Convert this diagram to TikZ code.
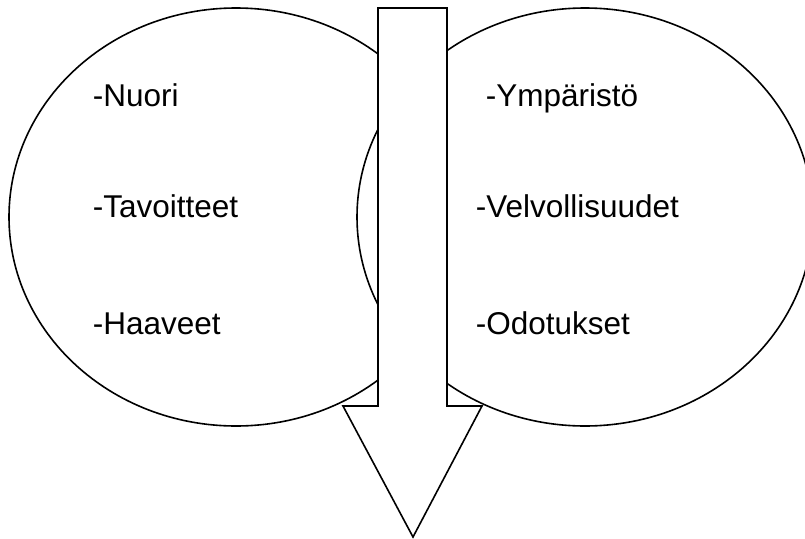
\documentclass[tikz,border=0pt]{standalone}
\usepackage{fontspec}
\setmainfont{Liberation Sans}

\tikzset{
    itemtext/.style={anchor=base west, inner sep=0pt, font=\fontsize{31.5}{38}\selectfont}
}

\begin{document}
\begin{tikzpicture}[x=1pt, y=-1pt, line width=1.6pt]
    \useasboundingbox (0,0) rectangle (805,538);
    \clip (0,0) rectangle (805,538);

    % Left ellipse
    \draw (236,217) ellipse [x radius=227pt, y radius=209pt];
    % Right ellipse (covers the left one)
    \draw[fill=white] (585,217) ellipse [x radius=228pt, y radius=209pt];

    % Big arrow down the middle
    \draw[fill=white] (378,8) -- (447,8) -- (447,406) -- (482,406) -- (413,537)
        -- (343,406) -- (378,406) -- cycle;

    % Left texts
    \node[itemtext] (nuori) at (92,106) {-Nuori};
    \node[itemtext] (tavoitteet) at (92,217) {-Tavoitteet};
    \node[itemtext] (haaveet) at (92,334) {-Haaveet};

    % Right texts
    \node[itemtext] (ymparisto) at (485,106) {-Ympäristö};
    \node[itemtext] (velvollisuudet) at (475,217) {-Velvollisuudet};
    \node[itemtext] (odotukset) at (475,334) {-Odotukset};
\end{tikzpicture}
\end{document}
